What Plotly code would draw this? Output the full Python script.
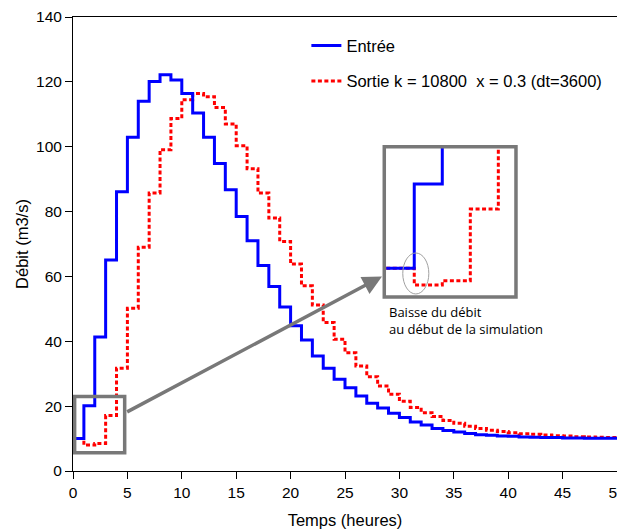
import plotly.graph_objects as go

# ---- data (hourly steps) ----
hours = list(range(0, 51))
entree = [10.0, 20.1, 41.3, 65.1, 86.1, 102.9, 114.0, 120.1, 122.2, 120.6,
          116.4, 110.4, 102.9, 94.8, 86.7, 78.5, 71.0, 63.4, 56.9, 50.6,
          44.8, 40.4, 35.5, 31.7, 28.3, 25.7, 23.1, 20.9, 19.4, 17.8,
          16.5, 15.1, 14.2, 13.1, 12.5, 12.0, 11.6, 11.2, 11.0, 10.8,
          10.7, 10.5, 10.4, 10.3, 10.3, 10.2, 10.2, 10.1, 10.1, 10.1]
sortie = [10.0, 8.0, 8.5, 17.1, 31.7, 50.2, 69.0, 85.7, 99.1, 108.7,
          114.5, 116.4, 115.4, 112.1, 107.0, 100.3, 93.2, 85.7, 78.0, 70.8,
          63.8, 57.1, 51.2, 45.8, 40.6, 36.5, 32.4, 29.1, 26.2, 23.7,
          21.5, 19.6, 18.0, 16.8, 15.6, 14.7, 13.8, 13.1, 12.6, 12.2,
          11.8, 11.5, 11.3, 11.1, 10.9, 10.8, 10.6, 10.5, 10.4, 10.3]
x_ticks = list(range(0, 51, 5))
y_ticks = list(range(0, 141, 20))

name_in = "Entrée"
name_out = "Sortie k = 10800\u00a0\u00a0x = 0.3 (dt=3600)"
note = "Baisse du débit<br>au début de la simulation"


def step(v):
    return v + [v[-1]]


BLUE = "#0000FF"
RED = "#FF0000"
GREY = "#787878"
RED_DASH = "4px,2.5px"

fig = go.Figure()
# main chart
fig.add_trace(go.Scatter(x=hours, y=step(sortie), mode="lines", name=name_out,
                         line=dict(color=RED, width=3, dash=RED_DASH, shape="hv"),
                         legendgroup="b", legendrank=2))
fig.add_trace(go.Scatter(x=hours, y=step(entree), mode="lines", name=name_in,
                         line=dict(color=BLUE, width=3, shape="hv"),
                         legendgroup="a", legendrank=1))
# zoomed inset
fig.add_trace(go.Scatter(x=hours, y=step(sortie), mode="lines", showlegend=False,
                         line=dict(color=RED, width=3, dash=RED_DASH, shape="hv"),
                         xaxis="x2", yaxis="y2"))
fig.add_trace(go.Scatter(x=hours, y=step(entree), mode="lines", showlegend=False,
                         line=dict(color=BLUE, width=3, shape="hv"),
                         xaxis="x2", yaxis="y2"))

axis_common = dict(showline=True, linecolor="black", linewidth=1, mirror=True,
                   ticks="outside", ticklen=7, tickwidth=1, tickcolor="black",
                   showgrid=False, zeroline=False, automargin=False,
                   ticklabeloverflow="allow",
                   tickfont=dict(size=15.5, color="black"))

# the page body adds an 8px offset, so the figure is 8px smaller
fig.update_layout(
    width=617, height=522,
    margin=dict(l=65, r=8, t=9, b=59),
    paper_bgcolor="white", plot_bgcolor="white",
    font=dict(family="Liberation Sans, Arial, sans-serif", color="black"),
    xaxis=dict(range=[0, 50], tickvals=x_ticks,
               title=dict(text="Temps (heures)", font=dict(size=16.5), standoff=14),
               **axis_common),
    yaxis=dict(range=[0, 140], tickvals=y_ticks,
               title=dict(text="Débit (m3/s)", font=dict(size=16.5), standoff=3),
               **axis_common),
    xaxis2=dict(domain=[0.5722, 0.8143], anchor="y2", range=[-0.07, 4.63],
                visible=False),
    yaxis2=dict(domain=[0.3833, 0.7143], anchor="x2", range=[6.56, 24.56],
                visible=False),
    legend=dict(x=0.429, y=0.975, xanchor="left", yanchor="top",
                traceorder="grouped", tracegroupgap=11,
                bgcolor="rgba(0,0,0,0)", font=dict(size=16.5)),
    shapes=[
        dict(type="rect", xref="x2 domain", yref="y2 domain", x0=0, x1=1, y0=0, y1=1,
             line=dict(color=GREY, width=3.5)),
        dict(type="circle", xref="x2", yref="y2", x0=0.59, x1=1.52, y0=6.92, y1=11.83,
             line=dict(color="#a0a0a0", width=1)),
        dict(type="rect", xref="x", yref="y", x0=0.15, x1=4.75, y0=5.6, y1=23.0,
             line=dict(color=GREY, width=3.5)),
    ],
    annotations=[
        dict(x=28.4, y=60.0, ax=4.84, ay=18.0, xref="x", yref="y", axref="x", ayref="y",
             text="", showarrow=True, arrowhead=2, arrowsize=1.1, arrowwidth=3.5,
             arrowcolor=GREY, standoff=0),
        dict(x=28.85, y=46.5, xref="x", yref="y", xanchor="left", yanchor="middle",
             align="left", text=note, showarrow=False,
             font=dict(family="Open Sans, Noto Sans, sans-serif", size=13, color="black")),
    ],
)

fig.write_html("out.html")
